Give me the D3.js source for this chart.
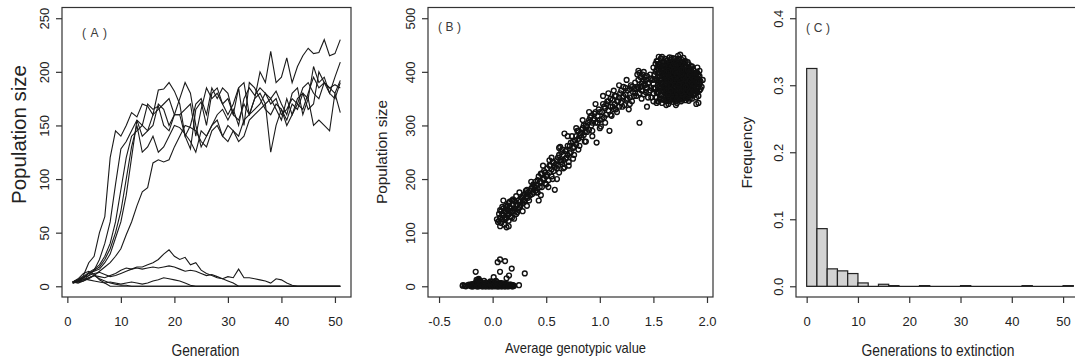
<!DOCTYPE html>
<html>
<head>
<meta charset="utf-8">
<title>Population size panels</title>
<style>
  body { margin: 0; background: #fff; }
  svg text { font-family: "Liberation Sans", Arial, sans-serif; fill: #222; }
  .box { fill: none; stroke: #333; stroke-width: 1.2; }
  .axis line { stroke: #333; stroke-width: 1.2; }
  .axis path { display: none; }
  .axis text { font-size: 13px; font-family: "Liberation Sans", Arial, sans-serif; fill: #222; }
  .run { fill: none; stroke: #1a1a1a; stroke-width: 1.1; }
  .dot { fill: none; stroke: #111; stroke-width: 1.4; }
  .bar { fill: #d3d3d3; stroke: #222; stroke-width: 1.2; }
  .base { stroke: #222; stroke-width: 1.2; }
  .tag { font-size: 12px; fill: #3a3a3a; }
</style>
</head>
<body>
<script src="https://cdn.jsdelivr.net/npm/d3@7"></script>
<script>
/* ===== DATA ===== */
// (A) population size per generation, one array per run
var generations = d3.range(1, 52);
var runA1 = [4,6,10,22,28,50,65,120,145,140,150,162,158,170,168,160,183,184,190,182,170,140,128,165,172,150,180,185,170,160,170,185,190,160,175,200,190,219,190,195,213,190,205,215,222,217,218,230,215,217,230];
var runA2 = [4,5,8,12,15,25,40,60,95,128,135,145,155,150,145,160,165,170,175,160,160,165,170,140,165,185,175,180,170,175,160,185,150,190,185,175,165,160,170,165,150,160,175,180,165,170,200,190,185,180,192];
var runA3 = [3,5,8,12,14,16,22,30,45,60,85,120,155,140,145,150,170,165,150,160,160,140,150,170,175,160,185,175,185,180,160,155,170,160,175,180,170,175,165,155,175,160,170,165,180,195,185,190,180,195,209];
var runA4 = [3,4,6,10,15,18,25,35,50,70,100,130,150,125,130,140,125,130,140,150,148,142,135,125,145,140,150,155,140,135,145,135,140,155,160,165,170,125,150,165,155,170,165,180,175,150,155,150,145,180,162];
var runA5 = [3,4,5,7,10,14,18,22,28,35,48,60,75,88,92,115,118,116,118,130,140,150,148,145,135,130,145,150,140,150,145,140,155,160,165,170,180,170,175,160,165,175,170,185,190,180,175,190,185,188,185];
var runA6 = [4,6,9,13,16,20,28,40,60,90,120,140,145,150,170,165,168,150,145,160,175,190,180,150,130,140,150,160,165,155,165,150,175,185,178,185,180,175,182,170,160,180,185,160,175,205,190,195,180,175,190];
var runA7 = [4,5,6,8,10,9,8,10,12,15,17,16,18,18,20,22,25,30,34,28,25,27,20,22,15,12,10,8,7,9,8,16,8,8,7,6,5,3,7,6,3,1,0,0,0,0,0,0,0,0,0];
var runA8 = [4,6,8,10,12,13,11,9,10,12,14,16,17,16,17,18,17,18,19,18,16,14,15,14,12,10,11,9,7,5,3,0,0,0,0,0,0,0,0,0,0,0,0,0,0,0,0,0,0,0,0];
var runA9 = [3,5,7,6,5,4,3,4,3,2,3,4,3,2,3,5,6,8,7,6,5,3,1,0,0,0,0,0,0,0,0,0,0,0,0,0,0,0,0,0,0,0,0,0,0,0,0,0,0,0,0];
var runA10 = [4,3,5,8,10,7,5,3,2,1,1,0,0,0,0,0,0,0,0,0,0,0,0,0,0,0,0,0,0,0,0,0,0,0,0,0,0,0,0,0,0,0,0,0,0,0,0,0,0,0,0];
var runA11 = [4,7,12,14,11,6,3,0,0,0,0,0,0,0,0,0,0,0,0,0,0,0,0,0,0,0,0,0,0,0,0,0,0,0,0,0,0,0,0,0,0,0,0,0,0,0,0,0,0,0,0];
var runsA = [runA1, runA2, runA3, runA4, runA5, runA6, runA7, runA8, runA9, runA10, runA11];

// (B) [average genotypic value, population size]
var lowCluster = [[-0.28,1],[-0.26,1],[-0.25,0],[-0.23,2],[-0.21,1],[-0.2,3],[-0.19,0],[-0.18,2],[-0.17,5],[-0.16,1],[-0.15,3],[-0.15,8],[-0.14,0],[-0.14,4],[-0.13,2],[-0.13,6],[-0.12,10],[-0.12,1],[-0.11,3],[-0.11,7],[-0.1,0],[-0.1,4],[-0.09,2],[-0.09,6],[-0.08,1],[-0.08,3],[-0.07,5],[-0.07,0],[-0.06,2],[-0.06,7],[-0.05,1],[-0.05,4],[-0.04,0],[-0.04,3],[-0.03,2],[-0.03,6],[-0.02,1],[-0.02,9],[-0.01,3],[-0.01,0],[0,2],[0,5],[0.01,1],[0.01,4],[0.02,0],[0.02,3],[0.03,6],[0.03,1],[0.04,2],[0.04,8],[0.05,0],[0.05,4],[0.06,2],[0.06,5],[0.07,1],[0.07,3],[0.08,0],[0.08,6],[0.09,2],[0.09,4],[0.1,1],[0.1,3],[0.11,0],[0.11,5],[0.12,2],[0.13,1],[0.13,4],[0.14,0],[0.15,2],[0.16,1],[0.17,3],[0.18,0],[0.19,2],
  [-0.22,3],[-0.2,0],[-0.19,4],[-0.18,0],[-0.17,1],[-0.16,4],[-0.15,0],[-0.14,2],[-0.13,0],[-0.12,4],[-0.11,1],[-0.1,2],[-0.09,0],[-0.08,5],[-0.07,2],[-0.06,0],[-0.05,3],[-0.04,6],[-0.03,0],[-0.02,4],[-0.01,1],[0,0],[0,8],[0.01,3],[0.02,6],[0.03,3],[0.04,0],[0.05,2],[0.06,0],[0.07,6],[0.08,3],[0.09,0],[0.1,5],[0.11,2],[0.12,0],[0.12,4],[0.13,2],[0.14,3],[0.15,0],[0.16,3],[0.17,1],[0.18,2],[0.19,0],[0.2,1],[-0.15,12],[-0.14,10],[-0.13,14],[-0.12,7],[-0.16,6]];
var lowOutliers = [[-0.276,2],[0.246,2],[-0.158,27],[-0.13,12],[-0.08,10],[-0.02,8],[0.01,17],[0.047,45],[0.069,50],[0.116,47],[0.069,27],[0.13,15],[0.153,20],[0.178,33],[0.3,24],[0.03,10]];
var trendBand = [[0.05,120],[0.06,135],[0.07,128],[0.08,140],[0.08,118],[0.09,125],[0.1,132],[0.1,145],[0.11,115],[0.12,138],[0.12,150],[0.13,128],[0.13,110],[0.14,142],[0.14,150],[0.15,135],[0.15,155],[0.16,148],[0.16,140],[0.17,130],[0.18,160],[0.18,140],[0.19,152],[0.19,162],[0.2,126],[0.2,145],[0.21,158],[0.22,150],[0.22,135],[0.23,138],[0.25,148],[0.26,158],[0.27,165],[0.28,155],[0.29,170],[0.3,160],[0.3,172],[0.31,178],[0.32,168],[0.33,175],[0.34,160],[0.35,170],[0.36,182],[0.37,172],[0.38,190],[0.39,185],[0.4,178],[0.41,188],[0.42,198],[0.43,160],[0.44,195],[0.45,210],[0.46,185],[0.47,200],[0.48,215],[0.49,192],[0.5,205],[0.51,220],[0.52,198],[0.53,212],[0.54,225],[0.55,205],[0.56,232],[0.57,215],[0.58,180],[0.59,228],[0.6,220],[0.61,240],[0.62,212],[0.63,235],[0.64,250],[0.65,228],[0.66,245],[0.67,285],[0.68,238],[0.69,255],[0.7,245],[0.71,232],[0.72,262],[0.73,250],[0.74,280],[0.75,258],[0.76,245],[0.77,272],[0.78,265],[0.79,290],[0.8,275],[0.81,262],[0.82,285],[0.83,278],[0.84,295],[0.85,282],[0.86,270],[0.87,300],[0.88,288],[0.89,305],[0.9,292],[0.91,315],[0.92,300],[0.93,290],[0.94,310],[0.95,322],[0.96,305],[0.97,268],[0.98,318],[0.99,330],[1.0,310],[1.01,298],[1.02,325],[1.03,340],[1.04,315],[1.05,332],[1.06,320],[1.07,345],[1.08,328],[1.09,290],[1.1,335],[1.11,318],[1.12,348],[1.13,330],[1.14,340],[1.15,355],[1.16,325],[1.17,345],[1.18,335],[1.19,360],[1.2,342],[1.21,352],[1.22,372],[1.23,338],[1.24,358],[1.25,348],[1.26,365],[1.27,330],[1.28,352],[1.29,375],[1.3,345],[1.31,362],[1.32,355],[1.33,380],[1.34,368],[1.34,355],[1.35,395],[1.35,372],[1.36,385],[1.36,370],[1.36,402],[1.37,305],[1.37,360],[1.37,398],[1.38,372],[1.38,390],[1.39,350],[1.39,378],[1.39,365],[1.4,382],[1.4,365],[1.4,395],[1.41,358],[1.41,400],[1.41,385],[1.42,390],[1.42,375],[1.43,370],[1.43,362],[1.43,385],[1.44,335],[1.44,392],[1.44,370],[1.45,378],[1.45,352],[1.46,362],[1.46,380],[1.47,395],[1.47,365],[1.48,352],[1.48,388],[1.49,385],[1.5,370],
  [0.04,125],[0.06,122],[0.07,142],[0.09,135],[0.09,148],[0.11,128],[0.11,140],[0.12,125],[0.13,145],[0.14,132],[0.15,122],[0.16,158],[0.17,145],[0.18,128],[0.19,140],[0.2,160],[0.21,140],[0.23,152],[0.24,145],[0.24,160],[0.26,150],[0.28,168],[0.29,158],[0.31,165],[0.32,180],[0.33,165],[0.35,178],[0.37,185],[0.38,175],[0.4,195],[0.41,175],[0.43,205],[0.44,185],[0.45,195],[0.46,210],[0.48,200],[0.49,212],[0.5,190],[0.51,208],[0.53,225],[0.55,218],[0.56,200],[0.57,230],[0.58,222],[0.6,235],[0.61,225],[0.62,245],[0.64,232],[0.65,255],[0.66,235],[0.68,252],[0.69,240],[0.7,262],[0.72,248],[0.73,268],[0.75,270],[0.76,260],[0.78,280],[0.8,290],[0.81,280],[0.83,292],[0.85,300],[0.86,288],[0.88,298],[0.9,310],[0.92,318],[0.93,305],[0.95,312],[0.96,325],[0.98,305],[1.0,325],[1.02,312],[1.04,335],[1.06,340],[1.08,345],[1.1,350],[1.12,335],[1.14,355],[1.16,345],[1.18,352],[1.2,365],[1.22,355],[1.24,370],[1.26,350],[1.28,368],[1.3,372],[1.32,368],[1.33,360],
  [0.32,150],[0.36,195],[0.42,175],[0.47,225],[0.52,185],[0.55,240],[0.6,200],[0.63,260],[0.66,220],[0.7,280],[0.71,225],[0.75,238],[0.78,295],[0.8,255],[0.84,310],[0.87,270],[0.9,325],[0.93,280],[0.96,340],[1.0,295],[1.03,355],[1.05,305],[1.08,360],[1.1,320],[1.13,365],[1.15,330],[1.18,375],[1.21,335],[1.25,385],[1.28,340],[0.25,175],[0.28,140],[0.22,168],[0.1,160],[0.07,112],[0.15,112],[0.45,170],[0.53,235],[0.62,258],[0.67,222]];
var plateau = [[1.50,360],[1.50,378],[1.51,395],[1.50,408],[1.52,352],[1.52,370],[1.53,385],[1.52,400],[1.52,415],[1.54,345],[1.55,362],[1.54,375],[1.54,390],[1.55,405],[1.54,420],[1.56,350],[1.56,365],[1.57,380],[1.56,392],[1.56,410],[1.57,425],[1.58,342],[1.58,358],[1.59,372],[1.58,386],[1.58,398],[1.59,412],[1.58,428],[1.60,348],[1.61,360],[1.60,370],[1.60,382],[1.61,394],[1.60,405],[1.60,418],[1.61,424],[1.62,345],[1.62,355],[1.63,366],[1.62,378],[1.62,389],[1.63,400],[1.62,410],[1.62,420],[1.64,340],[1.64,352],[1.65,362],[1.64,374],[1.64,385],[1.65,396],[1.64,408],[1.64,416],[1.65,427],[1.66,348],[1.66,358],[1.67,368],[1.66,380],[1.66,390],[1.67,402],[1.66,412],[1.66,422],[1.68,344],[1.68,355],[1.69,365],[1.68,376],[1.68,387],[1.69,398],[1.68,408],[1.68,418],[1.69,425],[1.70,350],[1.70,360],[1.71,371],[1.70,382],[1.70,393],[1.71,404],[1.70,414],[1.70,424],[1.72,342],[1.72,356],[1.73,366],[1.72,378],[1.72,389],[1.73,400],[1.72,411],[1.72,421],[1.73,430],[1.74,348],[1.74,360],[1.75,370],[1.74,381],[1.74,392],[1.75,403],[1.74,413],[1.74,423],[1.76,345],[1.76,355],[1.77,366],[1.76,377],[1.76,388],[1.77,399],[1.76,410],[1.76,418],[1.78,350],[1.78,362],[1.79,373],[1.78,384],[1.78,395],[1.79,405],[1.78,415],[1.78,426],[1.80,347],[1.80,358],[1.81,369],[1.80,380],[1.80,391],[1.81,402],[1.80,412],[1.82,352],[1.82,364],[1.83,375],[1.82,386],[1.82,397],[1.83,408],[1.82,418],[1.84,357],[1.84,368],[1.85,379],[1.84,390],[1.84,400],[1.85,410],[1.86,350],[1.86,362],[1.87,373],[1.86,384],[1.86,395],[1.87,405],[1.88,358],[1.88,370],[1.89,381],[1.88,392],[1.88,402],[1.90,340],[1.90,365],[1.91,377],[1.90,388],[1.90,398],[1.91,408],[1.92,355],[1.92,372],[1.93,385],[1.92,395],[1.94,368],[1.94,382],
  [1.53,362],[1.55,398],[1.57,356],[1.57,388],[1.59,365],[1.59,418],[1.61,352],[1.61,376],[1.61,410],[1.63,350],[1.63,384],[1.63,414],[1.65,345],[1.65,370],[1.65,404],[1.67,352],[1.67,386],[1.67,418],[1.69,348],[1.69,372],[1.69,412],[1.71,355],[1.71,388],[1.71,420],[1.73,348],[1.73,372],[1.73,405],[1.75,352],[1.75,386],[1.75,418],[1.77,358],[1.77,382],[1.77,412],[1.79,354],[1.79,390],[1.79,420],[1.81,363],[1.81,386],[1.83,358],[1.83,392],[1.85,364],[1.85,395],[1.87,356],[1.87,390],[1.89,366],[1.89,396],[1.91,370],[1.93,376],
  [1.51,368],[1.51,386],[1.53,352],[1.53,404],[1.53,420],[1.55,345],[1.55,380],[1.55,415],[1.57,370],[1.57,402],[1.57,415],[1.59,348],[1.59,380],[1.59,395],[1.59,405],[1.61,368],[1.61,386],[1.61,400],[1.63,358],[1.63,372],[1.63,394],[1.63,406],[1.63,422],[1.65,354],[1.65,380],[1.65,390],[1.65,415],[1.67,360],[1.67,376],[1.67,395],[1.67,408],[1.67,426],[1.69,356],[1.69,382],[1.69,392],[1.69,404],[1.69,418],[1.71,345],[1.71,364],[1.71,378],[1.71,397],[1.71,410],[1.73,356],[1.73,382],[1.73,392],[1.73,415],[1.73,424],[1.75,360],[1.75,376],[1.75,396],[1.75,408],[1.77,348],[1.77,372],[1.77,392],[1.77,404],[1.77,422],[1.79,362],[1.79,380],[1.79,398],[1.79,410],[1.81,352],[1.81,376],[1.81,395],[1.81,410],[1.83,366],[1.83,382],[1.83,400],[1.83,414],[1.85,356],[1.85,372],[1.85,386],[1.85,404],[1.87,365],[1.87,380],[1.87,398],[1.89,358],[1.89,375],[1.89,388],[1.91,362],[1.91,385],[1.91,398],[1.93,365],[1.93,392],
  [1.6,375],[1.62,385],[1.64,368],[1.64,395],[1.66,375],[1.66,400],[1.68,362],[1.68,382],[1.68,395],[1.7,368],[1.7,388],[1.7,400],[1.72,362],[1.72,384],[1.72,395],[1.74,366],[1.74,386],[1.74,400],[1.76,362],[1.76,382],[1.76,395],[1.78,368],[1.78,378],[1.78,390],[1.8,364],[1.8,386],[1.8,398],[1.82,370],[1.82,380],[1.82,392],[1.84,374],[1.84,384],[1.84,395],[1.86,368],[1.86,378],[1.86,390],[1.88,364],[1.88,376],[1.88,386],[1.9,372],[1.9,382],[1.9,392],[1.62,365],[1.62,398],[1.66,365],[1.66,385],[1.7,376],[1.74,376],[1.78,404],[1.82,404],[1.58,365],[1.58,378],[1.58,392],[1.56,372],[1.56,385],[1.56,398],[1.54,382],[1.54,398],[1.54,410],[1.6,410],[1.64,402],[1.68,412],[1.72,405],[1.76,404],[1.8,372],[1.84,362],[1.86,410],[1.6,355],[1.64,358],[1.68,350],[1.72,350],[1.76,350],[1.8,352],[1.84,350],
  [1.55,428],[1.75,432],[1.92,342],[1.96,385],[1.95,372],[1.5,345],[1.53,342],[1.62,338],[1.71,338],[1.83,346],[1.9,352],[1.93,402],[1.8,420]];

// (C) histogram of generations to extinction
var binStart = [0,2,4,6,8,10,12,14,16,18,20,22,24,26,28,30,32,34,36,38,40,42,44,46,48,50];
var binFreq = [0.325,0.086,0.026,0.023,0.019,0.005,0,0.003,0.001,0,0,0.001,0,0,0,0.001,0,0,0,0,0,0.001,0,0,0,0.001];
var binWidth = 2;

// ticks
var ticksA_x = [0,10,20,30,40,50], ticksA_y = [0,50,100,150,200,250];
var ticksB_x = [-0.5,0,0.5,1,1.5,2], ticksB_y = [0,100,200,300,400,500];
var ticksC_x = [0,10,20,30,40,50], ticksC_y = [0,0.1,0.2,0.3,0.4];

/* ===== LAYOUT ===== */
var boxTop = 7.5, boxBottom = 297;
var svg = d3.select("body").append("svg").attr("width", 1075).attr("height", 360);

function drawFrame(x, y, xt, yt, fmtX, fmtY) {
    var x0 = x.range()[0], x1 = x.range()[1];
    svg.append("rect").attr("class", "box")
        .attr("x", x0).attr("y", boxTop)
        .attr("width", x1 - x0).attr("height", boxBottom - boxTop);
    var gx = svg.append("g").attr("class", "axis")
        .attr("transform", "translate(0," + boxBottom + ")")
        .call(d3.axisBottom(x).tickValues(xt).tickFormat(fmtX).tickSize(6).tickSizeOuter(0));
    gx.selectAll(".tick text").attr("y", 29).attr("dy", null);
    var gy = svg.append("g").attr("class", "axis")
        .attr("transform", "translate(" + x0 + ",0)")
        .call(d3.axisLeft(y).tickValues(yt).tickFormat(fmtY).tickSize(6).tickSizeOuter(0));
    gy.selectAll(".tick text").attr("x", null).attr("dy", null)
        .attr("text-anchor", "middle")
        .attr("transform", "translate(-13,0) rotate(-90)");
}

function title(txt, cx, base, size, len, vertical) {
    var t = svg.append("text").attr("font-size", size)
        .attr("textLength", len).attr("lengthAdjust", "spacingAndGlyphs")
        .attr("x", -len / 2).attr("y", 0).text(txt);
    if (vertical) t.attr("transform", "translate(" + base + "," + cx + ") rotate(-90)");
    else t.attr("transform", "translate(" + cx + "," + base + ")");
}

function tag(txt, x, y, len) {
    svg.append("text").attr("class", "tag").attr("x", x).attr("y", y)
        .attr("textLength", len).attr("lengthAdjust", "spacing").text(txt);
}

/* ===== (A) ===== */
var xA = d3.scaleLinear().domain([-1, 53]).range([62, 351]);
var yA = d3.scaleLinear().domain([-10, 260]).range([boxBottom, boxTop]);
var lineA = d3.line().x(function (d, i) { return xA(generations[i]); }).y(function (d) { return yA(d); });
svg.append("g").selectAll("path").data(runsA).enter().append("path")
    .attr("class", "run").attr("d", lineA);
drawFrame(xA, yA, ticksA_x, ticksA_y, d3.format("d"), d3.format("d"));
title("Population size", 134.5, 26, 20, 139, true);
title("Generation", 205.5, 355.5, 16, 68, false);
tag("( A )", 82, 37, 25);

/* ===== (B) ===== */
var xB = d3.scaleLinear().domain([-0.603, 2.056]).range([428, 713]);
var yB = d3.scaleLinear().domain([-20, 520]).range([boxBottom, boxTop]);
var pointsB = lowCluster.concat(lowOutliers, trendBand, plateau);
svg.append("g").selectAll("circle").data(pointsB).enter().append("circle")
    .attr("class", "dot")
    .attr("cx", function (d) { return xB(d[0]); })
    .attr("cy", function (d) { return yB(d[1]); })
    .attr("r", 2.4);
drawFrame(xB, yB, ticksB_x, ticksB_y, function (d) { return d.toFixed(1); }, d3.format("d"));
title("Population size", 152, 387, 15, 104, true);
title("Average genotypic value", 575.5, 353, 15, 141, false);
tag("( B )", 438, 31, 23);

/* ===== (C) ===== */
var xC = d3.scaleLinear().domain([-2.08, 54.08]).range([796, 1084]);
var yC = d3.scaleLinear().domain([-0.016, 0.416]).range([boxBottom, boxTop]);
svg.append("line").attr("class", "base")
    .attr("x1", xC(binStart[0])).attr("x2", xC(binStart[binStart.length - 1] + binWidth))
    .attr("y1", yC(0)).attr("y2", yC(0));
svg.append("g").selectAll("rect").data(binFreq).enter().append("rect")
    .attr("class", "bar")
    .attr("x", function (d, i) { return xC(binStart[i]); })
    .attr("width", function (d, i) { return xC(binStart[i] + binWidth) - xC(binStart[i]); })
    .attr("y", function (d) { return yC(d); })
    .attr("height", function (d) { return yC(0) - yC(d); });
drawFrame(xC, yC, ticksC_x, ticksC_y, d3.format("d"), function (d) { return d.toFixed(1); });
title("Frequency", 152.5, 752, 14, 72, true);
title("Generations to extinction", 938, 356, 16, 153, false);
tag("( C )", 806, 31.5, 24);
</script>
</body>
</html>
